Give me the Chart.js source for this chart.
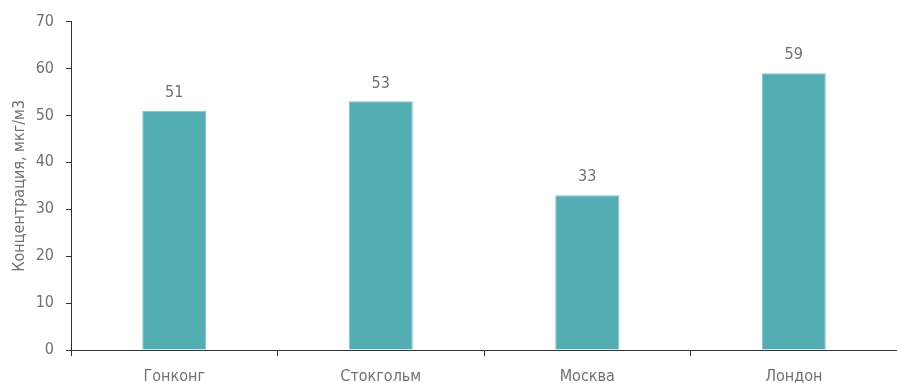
<!DOCTYPE html>
<html>
<head>
<meta charset="utf-8">
<script src="https://cdn.jsdelivr.net/npm/chart.js@4"></script>
<style>
  html, body { margin: 0; padding: 0; background: #fff; }
  #wrap { width: 897px; height: 383px; }
</style>
</head>
<body>
<div id="wrap"><canvas id="chartCanvas" width="897" height="383"></canvas></div>
<script>
// ==========================================
// Data
// ==========================================
const cities = ["Гонконг", "Стокгольм", "Москва", "Лондон"];
const concentration = [51, 53, 33, 59];
const yTitle = "Концентрация, мкг/м3";

const FONT = "'Liberation Sans Narrow', 'DejaVu Sans Condensed', 'Roboto', sans-serif";
const TEXT = "#717171";
const AXIS = "#333333";
const BAR = "#53aeb3";

// Value labels above bars
const barLabels = {
    id: "barLabels",
    afterDatasetsDraw(chart) {
        const ctx = chart.ctx;
        const meta = chart.getDatasetMeta(0);
        ctx.save();
        ctx.font = "16px " + FONT;
        ctx.fillStyle = TEXT;
        ctx.textAlign = "center";
        ctx.textBaseline = "bottom";
        meta.data.forEach((bar, i) => {
            ctx.fillText(String(concentration[i]), bar.x, bar.y - 10);
        });
        ctx.restore();
    }
};

const ctx = document.getElementById("chartCanvas").getContext("2d");

new Chart(ctx, {
    type: "bar",
    data: {
        labels: cities,
        datasets: [{
            data: concentration,
            backgroundColor: BAR,
            borderColor: "#7cc3c7",
            borderWidth: 1,
            categoryPercentage: 1,
            barPercentage: 0.31
        }]
    },
    options: {
        responsive: false,
        animation: false,
        layout: { padding: { top: 20, right: 0, left: 0, bottom: 0 } },
        plugins: {
            legend: { display: false },
            tooltip: { enabled: false }
        },
        scales: {
            x: {
                offset: true,
                grid: {
                    offset: true,
                    drawOnChartArea: false,
                    drawTicks: true,
                    tickLength: 6,
                    color: AXIS
                },
                border: { color: AXIS, width: 1 },
                ticks: {
                    color: TEXT,
                    font: { family: FONT, size: 16 },
                    padding: 11,
                    maxRotation: 0
                },
                afterFit(scale) { scale.height = 33; }
            },
            y: {
                min: 0,
                max: 70,
                ticks: {
                    stepSize: 10,
                    color: TEXT,
                    font: { family: FONT, size: 16 },
                    padding: 12
                },
                grid: {
                    drawOnChartArea: false,
                    drawTicks: true,
                    tickLength: 5,
                    color: AXIS
                },
                border: { color: AXIS, width: 1 },
                title: {
                    display: true,
                    text: yTitle,
                    color: TEXT,
                    font: { family: FONT, size: 16 },
                    padding: { top: 10, bottom: 0 }
                },
                afterFit(scale) { scale.width = 71; }
            }
        }
    },
    plugins: [barLabels]
});
</script>
</body>
</html>
